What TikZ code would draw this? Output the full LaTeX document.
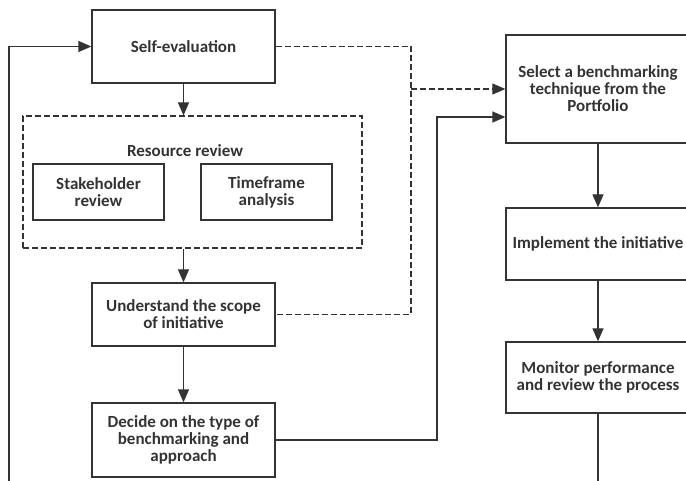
\documentclass[tikz,border=0pt]{standalone}
\usepackage{fontspec}
\setmainfont{Carlito}
\usetikzlibrary{arrows.meta, positioning}
\definecolor{ink}{HTML}{333333}

\begin{document}
\begin{tikzpicture}[x=1pt, y=-1pt, line width=1.3pt, draw=ink,
    box/.style={draw=ink, line width=1.3pt, align=center, text=ink,
        font=\bfseries\fontsize{17}{17}\selectfont, inner sep=2pt},
    dash line/.style={draw=ink, line width=1.1pt, dash pattern=on 6pt off 3pt},
    link/.style={draw=ink, line width=1.3pt, -{Triangle[length=13pt, width=11pt]}}]
    \useasboundingbox (0,0) rectangle (686,481);
    \clip (0,0) rectangle (686,481);
    % left column
    \node[box, minimum width=183pt, minimum height=73pt] (selfeval) at (183.5,46.5) {Self-evaluation};
    \node[box, dash line, minimum width=339pt, minimum height=132pt] (resource) at (192.5,182) {};
    \node[text=ink, font=\bfseries\fontsize{17}{17}\selectfont] (restitle) at (185,151) {Resource review};
    \node[box, minimum width=131pt, minimum height=56pt] (stake) at (98.5,192) {Stakeholder\\review};
    \node[box, minimum width=131pt, minimum height=56pt] (time) at (266.5,192) {Timeframe\\analysis};
    \node[box, minimum width=183pt, minimum height=63pt] (scope) at (183.5,314.5) {Understand the scope\\of initiative};
    \node[box, minimum width=183pt, minimum height=74pt] (decide) at (183.5,440) {Decide on the type of\\benchmarking and\\approach};
    % right column
    \node[box, minimum width=184pt, minimum height=108pt] (select) at (598,89) {Select a benchmarking\\technique from the\\Portfolio};
    \node[box, minimum width=184pt, minimum height=72pt] (implement) at (598,244) {Implement the initiative};
    \node[box, minimum width=184pt, minimum height=71pt] (monitor) at (598,377.5) {Monitor performance\\and review the process};
    % junctions
    \coordinate (jd) at (411,200);
    \coordinate (js) at (437,117);
    \coordinate (loopb) at (9,490);
    \coordinate (endb) at (598,490);
    % arrows down the left column
    \draw[link] (selfeval.south) -- (selfeval.south |- resource.north);
    \draw[link] (scope.north |- resource.south) -- (scope.north);
    \draw[link] (scope.south) -- (decide.north);
    % dashed feedback
    \draw[dash line] (selfeval.east) -| (jd) |- (scope.east);
    \draw[link, dash line] (jd |- select.west) -- (select.west);
    % solid link to select
    \draw[link] (decide.east) -| (js) -- (js -| select.west);
    % arrows down the right column
    \draw[link] (select.south) -- (implement.north);
    \draw[link] (implement.south) -- (monitor.north);
    \draw[draw=ink, line width=1.3pt] (monitor.south) -- (endb);
    % loop back
    \draw[link] (loopb) |- (selfeval.west);
\end{tikzpicture}
\end{document}
